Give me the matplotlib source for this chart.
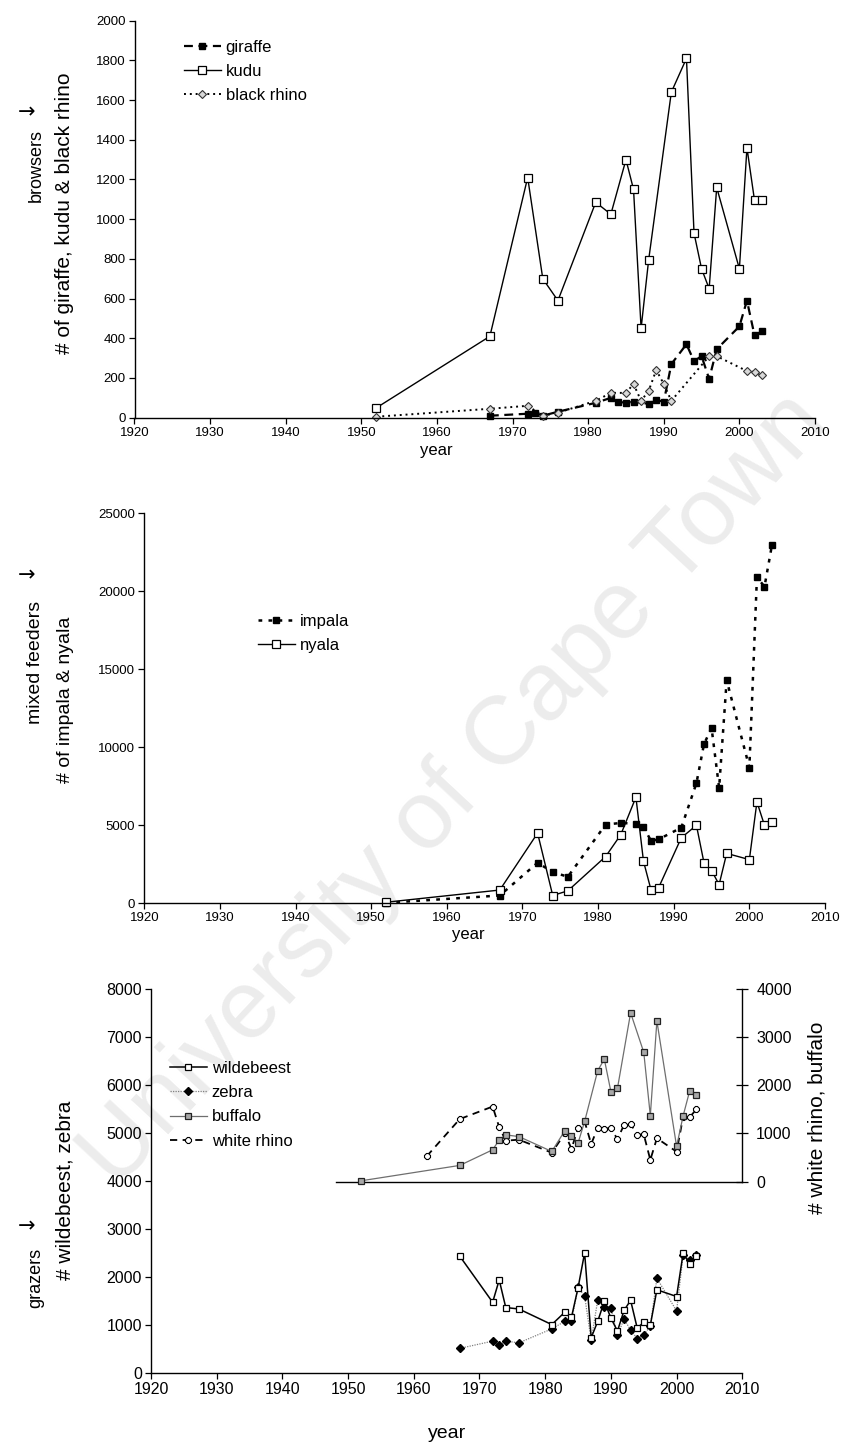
import matplotlib
matplotlib.use("Agg")
import matplotlib.pyplot as plt

plt.rcParams['font.family'] = ['Liberation Sans', 'DejaVu Sans']

# ---------------- browsers ----------------
giraffe_years = [1967, 1972, 1973, 1974, 1976, 1981, 1983, 1984, 1985, 1986, 1988, 1989,
                 1990, 1991, 1993, 1994, 1995, 1996, 1997, 2000, 2001, 2002, 2003]
giraffe = [10, 20, 25, 10, 30, 75, 100, 80, 75, 80, 70, 90,
           80, 270, 370, 285, 310, 195, 345, 460, 590, 415, 435]

kudu_years = [1952, 1967, 1972, 1974, 1976, 1981, 1983, 1985, 1986, 1987, 1988,
              1991, 1993, 1994, 1995, 1996, 1997, 2000, 2001, 2002, 2003]
kudu = [50, 410, 1210, 700, 590, 1085, 1025, 1300, 1150, 450, 795,
        1640, 1810, 930, 750, 650, 1160, 750, 1360, 1095, 1095]

black_rhino_years = [1952, 1967, 1972, 1974, 1976, 1981, 1983, 1985, 1986, 1987,
                     1988, 1989, 1990, 1991, 1996, 1997, 2001, 2002, 2003]
black_rhino = [5, 45, 60, 10, 25, 85, 125, 125, 170, 85,
               135, 240, 170, 85, 310, 310, 235, 230, 215]

# ---------------- mixed feeders ----------------
impala_years = [1952, 1967, 1972, 1974, 1976, 1981, 1983, 1985, 1986, 1987, 1988,
                1991, 1993, 1994, 1995, 1996, 1997, 2000, 2001, 2002, 2003]
impala = [30, 500, 2600, 2000, 1700, 5050, 5150, 5100, 4900, 4000, 4100,
          4850, 7700, 10200, 11250, 7400, 14300, 8700, 20900, 20300, 23000]

nyala_years = [1952, 1967, 1972, 1974, 1976, 1981, 1983, 1985, 1986, 1987, 1988,
               1991, 1993, 1994, 1995, 1996, 1997, 2000, 2001, 2002, 2003]
nyala = [70, 850, 4500, 500, 800, 3000, 4400, 6800, 2700, 850, 1000,
         4200, 5000, 2600, 2100, 1200, 3200, 2800, 6500, 5000, 5200]

# ---------------- grazers ----------------
wildebeest_years = [1967, 1972, 1973, 1974, 1976, 1981, 1983, 1984, 1985, 1986, 1987,
                    1988, 1989, 1990, 1991, 1992, 1993, 1994, 1995, 1996, 1997,
                    2000, 2001, 2002, 2003]
wildebeest = [2440, 1480, 1945, 1370, 1340, 1015, 1275, 1170, 1780, 2510, 740,
              1085, 1500, 1150, 880, 1310, 1520, 945, 1060, 1000, 1740,
              1600, 2510, 2270, 2440]

zebra_years = [1967, 1972, 1973, 1974, 1976, 1981, 1983, 1984, 1985, 1986, 1987,
               1988, 1989, 1990, 1991, 1992, 1993, 1994, 1995, 1996, 1997,
               2000, 2001, 2002, 2003]
zebra = [520, 670, 580, 670, 635, 925, 1085, 1085, 1790, 1610, 685,
         1530, 1380, 1360, 790, 1130, 900, 725, 805, 980, 1980,
         1300, 2460, 2360, 2460]

buffalo_years = [1952, 1967, 1972, 1973, 1974, 1976, 1981, 1983, 1984, 1985, 1986,
                 1988, 1989, 1990, 1991, 1993, 1995, 1996, 1997, 2000, 2001, 2002, 2003]
buffalo = [15, 335, 660, 865, 970, 935, 625, 1060, 950, 800, 1250,
           2310, 2545, 1870, 1940, 3510, 2690, 1370, 3340, 730, 1370, 1890, 1790]

white_rhino_years = [1962, 1967, 1972, 1973, 1974, 1976, 1981, 1983, 1984, 1985, 1986,
                     1987, 1988, 1989, 1990, 1991, 1992, 1993, 1994, 1995, 1996, 1997,
                     2000, 2001, 2002, 2003]
white_rhino = [530, 1300, 1560, 1130, 850, 870, 600, 1000, 680, 1110, 1250,
               780, 1120, 1100, 1110, 880, 1180, 1200, 970, 980, 450, 900,
               620, 1350, 1340, 1500]

year_ticks = list(range(1920, 2011, 10))

W, H = 847, 1446
fig = plt.figure(figsize=(W / 100, H / 100), dpi=100)


def axes_px(x0, x1, ytop, ybot):
    return fig.add_axes([x0 / W, 1 - ybot / H, (x1 - x0) / W, (ybot - ytop) / H])


def fig_text(x, y, s, **kw):
    return fig.text(x / W, 1 - y / H, s, ha='center', va='center', **kw)


def arrow(x, y):
    fig_text(x, y, "\u2192", fontsize=15, family='DejaVu Sans')


def style(ax, ymax, ystep, fs):
    ax.set_xlim(1920, 2010)
    ax.set_ylim(0, ymax)
    ax.set_xticks(year_ticks)
    ax.set_yticks(range(0, ymax + 1, ystep))
    for s in ('top', 'right'):
        ax.spines[s].set_visible(False)
    for s in ('left', 'bottom'):
        ax.spines[s].set_linewidth(1.0)
    ax.tick_params(direction='out', length=4, width=0.9, labelsize=fs, pad=2.5)
    ax.patch.set_visible(False)


def legend(ax, handles, x, y):
    ax.legend(handles=handles, loc='upper left',
              bbox_to_anchor=(x / W, 1 - y / H), bbox_transform=fig.transFigure,
              frameon=False, fontsize=12, handlelength=2.2, handletextpad=0.3,
              labelspacing=0.55, borderpad=0, borderaxespad=0)


# watermark behind everything
fig_text(455, 790, "University of Cape Town", rotation=47, fontsize=70,
         color='#ececec', zorder=-5)

# ===== browsers =====
ax1 = axes_px(134.5, 815, 20.7, 417.7)
style(ax1, 2000, 200, 9.5)
l_gir, = ax1.plot(giraffe_years, giraffe, color='black', lw=1.6, ls=(0, (4, 2.5)),
                  marker='s', ms=5, mfc='black', mec='black', clip_on=False, label='giraffe')
l_kudu, = ax1.plot(kudu_years, kudu, color='black', lw=1.0, ls='-',
                   marker='s', ms=5.5, mfc='white', mec='black', mew=0.9, clip_on=False,
                   label='kudu')
l_brh, = ax1.plot(black_rhino_years, black_rhino, color='black', lw=1.4, ls=(0, (1, 2)),
                  marker='D', ms=4, mfc='#d8d8d8', mec='#333333', mew=0.8, clip_on=False,
                  label='black rhino')
legend(ax1, [l_gir, l_kudu, l_brh], 184, 40)
arrow(27, 112)
fig_text(36, 165, "browsers", rotation=90, fontsize=13)
fig_text(65, 213, "# of giraffe, kudu & black rhino", rotation=90, fontsize=15)
fig_text(436, 450, "year", fontsize=12)

# ===== mixed feeders =====
ax2 = axes_px(144.3, 825, 513.3, 903.3)
style(ax2, 25000, 5000, 9.5)
l_imp, = ax2.plot(impala_years, impala, color='black', lw=1.8, ls=(0, (1.5, 2.5)),
                  marker='s', ms=5, mfc='black', mec='black', clip_on=False, label='impala')
l_nya, = ax2.plot(nyala_years, nyala, color='black', lw=1.0, ls='-',
                  marker='s', ms=5.5, mfc='white', mec='black', mew=0.9, clip_on=False,
                  label='nyala')
legend(ax2, [l_imp, l_nya], 258, 614)
arrow(27, 575)
fig_text(36, 662, "mixed feeders", rotation=90, fontsize=14)
fig_text(65, 700, "# of impala & nyala", rotation=90, fontsize=14)
fig_text(468, 935, "year", fontsize=12)

# ===== grazers =====
ax3 = axes_px(151, 742.3, 989.3, 1373.3)
style(ax3, 8000, 1000, 11.5)
l_wil, = ax3.plot(wildebeest_years, wildebeest, color='black', lw=1.1, ls='-',
                  marker='s', ms=5, mfc='white', mec='black', mew=0.9, clip_on=False,
                  label='wildebeest', zorder=3)
l_zeb, = ax3.plot(zebra_years, zebra, color='#808080', lw=0.9, ls=(0, (1, 1)),
                  marker='D', ms=4.5, mfc='black', mec='black', clip_on=False,
                  label='zebra', zorder=2)

# secondary scale for white rhino and buffalo, upper half of the panel
x_left = 1920 + (336 - 151) / (742.3 - 151) * 90
ax4 = axes_px(336, 742.3, 989.3, 1181.5)
ax4.set_xlim(x_left, 2010)
ax4.set_ylim(0, 4000)
ax4.patch.set_visible(False)
for s in ('top', 'left'):
    ax4.spines[s].set_visible(False)
ax4.spines['right'].set_linewidth(1.0)
ax4.spines['bottom'].set_linewidth(1.0)
ax4.set_xticks([])
ax4.yaxis.tick_right()
ax4.set_yticks(range(0, 4001, 1000))
ax4.tick_params(axis='y', direction='inout', length=8, width=0.9, labelsize=11.5, pad=6)
l_buf, = ax4.plot(buffalo_years, buffalo, color='#6e6e6e', lw=0.9, ls='-',
                  marker='s', ms=5, mfc='#a8a8a8', mec='#222222', mew=0.9, clip_on=False,
                  label='buffalo', zorder=3)
l_wrh, = ax4.plot(white_rhino_years, white_rhino, color='black', lw=1.3, ls=(0, (4, 3)),
                  marker='8', ms=5, mfc='white', mec='black', mew=0.8, clip_on=False,
                  label='white rhino', zorder=2)

legend(ax3, [l_wil, l_zeb, l_buf, l_wrh], 170, 1061)
arrow(27, 1226)
fig_text(36, 1278, "grazers", rotation=90, fontsize=13)
fig_text(65, 1190, "# wildebeest, zebra", rotation=90, fontsize=15)
fig_text(817, 1118, "# white rhino, buffalo", rotation=90, fontsize=15)
fig_text(447, 1433, "year", fontsize=14)

fig.savefig("out.png", dpi=100)
